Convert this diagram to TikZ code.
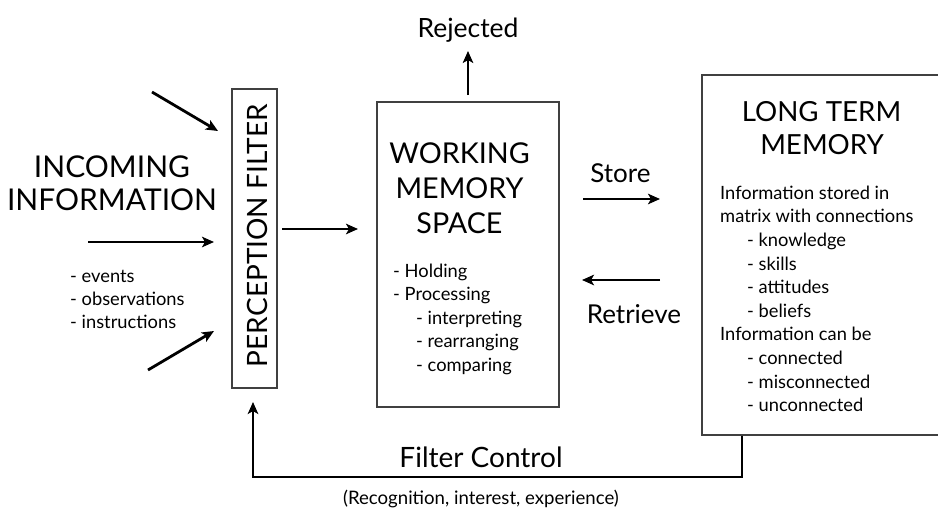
\documentclass[tikz,border=0pt]{standalone}
\usepackage{fontspec}
\setmainfont{Lato}
\usetikzlibrary{arrows.meta}
\begin{document}
\begin{tikzpicture}[x=1pt,y=-1pt,
  box/.style={draw=black!75, line width=1.3pt, inner sep=0pt},
  arr/.style={line width=2.8pt, -{Stealth[length=12pt,width=10.5pt,inset=3pt]}},
  big/.style={font=\fontsize{30}{34}\selectfont, inner sep=0pt, align=center},
  mid/.style={font=\fontsize{28.7}{35}\selectfont, inner sep=0pt},
  lbl/.style={font=\fontsize{26}{30}\selectfont, inner sep=0pt},
  sm/.style={font=\fontsize{18.3}{23.6}\selectfont, inner sep=0pt, anchor=base west},
]
\useasboundingbox (0,0) rectangle (938,509);
\clip (0,0) rectangle (938,509);

% boxes
\node[box, minimum width=45pt, minimum height=299pt] (pf) at (254.5,238.5) {};
\node[font=\fontsize{28}{32}\selectfont, inner sep=0pt, rotate=90, anchor=base] (pft) at (267,235.5) {PERCEPTION FILTER};
\node[box, minimum width=182pt, minimum height=305pt] (wm) at (468,254.5) {};
\node[box, minimum width=250pt, minimum height=360pt] (ltm) at (827,255) {};

% incoming
\node[big, anchor=base] (inc1) at (112,177) {INCOMING};
\node[big, anchor=base] (inc2) at (112,210) {INFORMATION};
\node[sm] (ev1) at (70,282) {- events};
\node[sm] (ev2) at (70,305) {- observations};
\node[sm] (ev3) at (70,328) {- instructions};

\coordinate (a1s) at (152,92);  \coordinate (a1e) at (218,131);
\coordinate (a2s) at (88,242);  \coordinate (a2e) at (214,242);
\coordinate (a3s) at (148,370); \coordinate (a3e) at (214,331);
\draw[arr] (a1s) -- (a1e);
\draw[arr] (a2s) -- (a2e);
\draw[arr] (a3s) -- (a3e);

% perception -> working memory
\coordinate (p2s) at (282,229); \coordinate (p2e) at (358,229);
\draw[arr] (p2s) -- (p2e);

% working memory text
\node[mid, anchor=base] (w1) at (459.5,163) {WORKING};
\node[mid, anchor=base] (w2) at (459.5,198) {MEMORY};
\node[mid, anchor=base] (w3) at (459.5,233) {SPACE};
\node[sm] (h1) at (393,277) {- Holding};
\node[sm] (h2) at (393,300.5) {- Processing};
\node[sm] (h3) at (416,324) {- interpreting};
\node[sm] (h4) at (416,347.5) {- rearranging};
\node[sm] (h5) at (416,371) {- comparing};

% rejected
\node[font=\fontsize{26.5}{30}\selectfont, inner sep=0pt, anchor=base] (rej) at (468,37) {Rejected};
\coordinate (rjs) at (468,95);
\draw[arr] (rjs) -- (rej.south |- 0,51);

% store / retrieve
\node[lbl, anchor=base] (st) at (620.5,182) {Store};
\node[lbl, anchor=base] (rt) at (634,323) {Retrieve};
\coordinate (ss) at (583,199); \coordinate (se) at (660,199);
\coordinate (rs) at (660,280); \coordinate (re) at (582,280);
\draw[arr] (ss) -- (se);
\draw[arr] (rs) -- (re);

% long term memory
\node[font=\fontsize{27.7}{33}\selectfont, inner sep=0pt, anchor=base] (l1) at (821.5,121) {LONG TERM};
\node[font=\fontsize{27.7}{33}\selectfont, inner sep=0pt, anchor=base] (l2) at (822,154) {MEMORY};
\node[sm] (m0) at (720,199.3) {Information stored in};
\node[sm] (m1) at (720,222.9) {matrix with connections};
\node[sm] (m2) at (747,246.5) {- knowledge};
\node[sm] (m3) at (747,270.1) {- skills};
\node[sm] (m4) at (747,293.7) {- attitudes};
\node[sm] (m5) at (747,317.3) {- beliefs};
\node[sm] (m6) at (720,340.9) {Information can be};
\node[sm] (m7) at (747,364.5) {- connected};
\node[sm] (m8) at (747,388.1) {- misconnected};
\node[sm] (m9) at (747,411.7) {- unconnected};

% filter control
\coordinate (fcA) at (742,477);
\coordinate (fcB) at (253,477);
\coordinate (fcC) at (253,402);
\draw[arr] (ltm.south -| fcA) -- (fcA) -- (fcB) -- (fcC);
\node[font=\fontsize{28}{32}\selectfont, inner sep=0pt, anchor=base] (fc) at (481,467) {Filter Control};
\node[font=\fontsize{18.6}{22}\selectfont, inner sep=0pt, anchor=base] (fcr) at (481,504) {(Recognition, interest, experience)};
\end{tikzpicture}
\end{document}
